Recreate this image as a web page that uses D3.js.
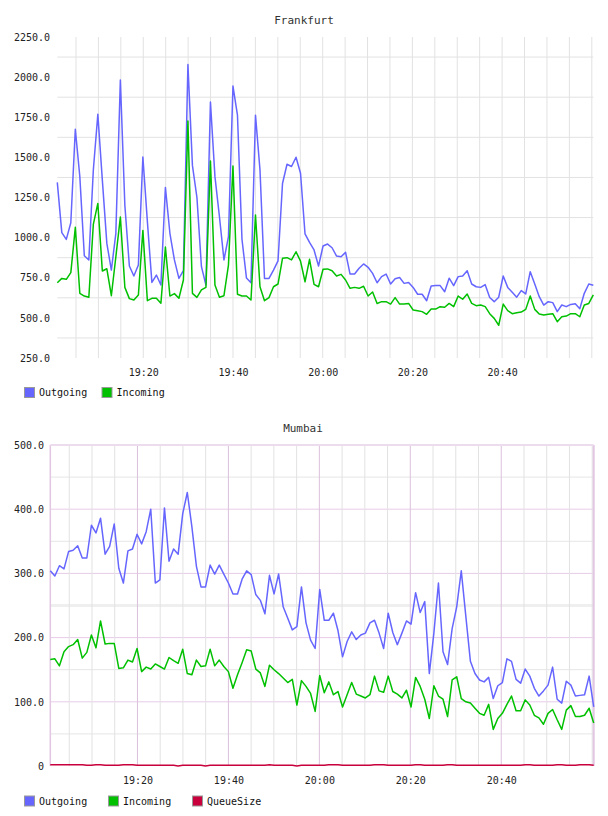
<!DOCTYPE html>
<html><head><meta charset="utf-8">
<script src="https://cdn.jsdelivr.net/npm/d3@7"></script>
<style>html,body{margin:0;padding:0;background:#fff;}svg{display:block;}</style>
</head><body>
<svg id="c" width="608" height="816"></svg>
<script>
// ---------- data ----------
const startTime = "19:00:50";
const endTime = "21:00:20";
const xTickLabels = ["19:20", "19:40", "20:00", "20:20", "20:40"];

const frankfurtYTicks = [250, 500, 750, 1000, 1250, 1500, 1750, 2000, 2250];
const mumbaiYTicks = [0, 100, 200, 300, 400, 500];

const frankfurtOutgoing = [
  1344,1031,989,1093,1675,1380,887,861,1421,1768,
  1358,964,798,1027,1982,1200,823,761,829,1502,
  1100,721,767,705,1313,1027,861,746,794,2078,
  1450,1250,819,705,1845,1380,1130,861,1006,1944,
  1763,990,748,719,1763,1421,746,746,798,855,
  1337,1457,1443,1501,1401,1023,970,923,823,948,
  960,937,885,881,908,773,773,809,836,815,
  777,719,757,773,711,744,752,715,721,690,
  647,647,607,699,701,701,663,747,701,757,
  761,794,711,694,690,707,627,601,629,761,
  690,659,629,670,649,788,711,632,580,601,
  595,539,580,570,584,588,557,653,711,703];
const frankfurtIncoming = [
  719,746,740,782,1064,653,636,628,1083,1213,
  792,806,638,881,1128,690,620,611,642,1045,
  607,622,622,591,941,636,651,622,736,1727,
  653,628,674,690,1477,705,628,638,829,1446,
  647,636,636,611,1141,694,607,626,694,711,
  871,875,861,912,854,725,865,709,694,803,
  805,794,761,771,736,684,690,684,697,636,
  661,590,601,601,586,626,586,586,590,549,
  545,539,522,555,555,570,566,590,570,636,
  616,649,590,576,580,570,526,497,454,586,
  545,526,532,536,553,636,553,524,518,522,
  526,476,507,511,526,526,507,580,590,643];

const mumbaiOutgoing = [
  304,296,312,307,334,336,343,324,324,375,
  363,386,330,342,377,308,285,335,338,361,
  346,365,400,285,290,402,319,338,330,393,
  426,373,311,279,279,313,299,313,299,285,
  268,268,291,304,298,267,258,237,297,268,
  299,248,230,212,217,279,223,196,183,275,
  227,227,238,211,170,194,209,197,204,207,
  223,227,207,183,238,208,189,207,226,221,
  270,239,256,144,207,285,178,158,214,248,
  304,233,163,144,134,131,138,105,125,130,
  167,163,135,129,151,140,121,109,117,126,
  154,104,98,132,126,109,110,111,140,92];
const mumbaiIncoming = [
  166,167,156,178,186,189,197,168,177,204,
  184,226,190,191,191,152,153,165,162,183,
  147,154,151,159,155,151,169,164,160,182,
  144,142,165,155,156,182,156,165,155,147,
  121,142,161,181,179,151,145,124,157,150,
  144,137,130,135,95,133,124,113,85,141,
  114,131,111,116,92,111,130,112,109,106,
  111,140,117,115,140,116,112,106,118,92,
  138,124,104,74,125,109,104,77,134,139,
  105,100,98,90,82,79,96,57,74,82,
  96,109,86,86,103,95,79,75,65,82,
  88,72,57,87,94,77,77,79,90,67];
const mumbaiQueueSize = [
  2,2,2,2,2,2,2,2,1,1,
  2,2,1,1,1,1,2,2,2,1,
  1,1,1,1,1,1,1,1,0,1,
  1,1,1,1,0,1,1,1,1,1,
  1,1,1,1,1,1,1,1,2,1,
  1,1,1,1,0,1,1,1,1,1,
  1,2,2,2,1,1,1,1,1,1,
  1,2,2,2,1,1,1,1,1,1,
  2,2,1,1,1,1,1,2,2,1,
  1,1,1,1,1,1,1,1,1,1,
  1,1,1,1,2,2,1,1,1,1,
  1,2,2,1,1,1,2,2,2,1];

const colors = {Outgoing: "#6666ff", Incoming: "#00c000", QueueSize: "#c8003c"};

// ---------- helpers ----------
const parseT = d3.timeParse("%H:%M:%S");
const parseHM = d3.timeParse("%H:%M");
const t0 = parseT(startTime), t1 = parseT(endTime);
function timesFor(n) {
  const step = (t1 - t0) / (n - 1);
  return d3.range(n).map(i => new Date(+t0 + i * step));
}
const svg = d3.select("#c");
svg.append("rect").attr("width", 608).attr("height", 816).attr("fill", "#fff");
const mono = "'DejaVu Sans Mono', monospace";

function drawChart(cfg) {
  const g = svg.append("g");
  const x = d3.scaleTime().domain([t0, t1]).range([cfg.left, cfg.right]);
  const y = d3.scaleLinear().domain(cfg.yDomain).range([cfg.bottom, cfg.top]);
  const fiveMin = d3.timeMinute.every(5).range(t0, t1);
  const majors = xTickLabels.map(s => parseHM(s));

  // grid
  const grid = g.append("g");
  cfg.hGrid.forEach(h => {
    grid.append("line").attr("x1", cfg.left).attr("x2", cfg.right)
      .attr("y1", y(h.v)).attr("y2", y(h.v))
      .attr("stroke", h.c).attr("stroke-width", h.w || 1);
  });
  fiveMin.forEach(t => {
    const isMajor = majors.some(m => +m === +t);
    grid.append("line").attr("x1", x(t)).attr("x2", x(t))
      .attr("y1", cfg.top).attr("y2", cfg.bottom)
      .attr("stroke", (isMajor && cfg.majorV) ? cfg.majorV : "#e2e2e2")
      .attr("stroke-width", 1);
  });
  if (cfg.border) {
    grid.append("line").attr("x1", cfg.left).attr("x2", cfg.left).attr("y1", cfg.top).attr("y2", cfg.bottom)
      .attr("stroke", cfg.border).attr("stroke-width", 1.5);
    grid.append("line").attr("x1", cfg.right).attr("x2", cfg.right).attr("y1", cfg.top).attr("y2", cfg.bottom)
      .attr("stroke", cfg.border).attr("stroke-width", 2);
    grid.append("line").attr("x1", cfg.left).attr("x2", cfg.right).attr("y1", cfg.top).attr("y2", cfg.top)
      .attr("stroke", "#eddcee").attr("stroke-width", 2);
  }

  // series
  cfg.series.forEach(s => {
    const ts = timesFor(s.values.length);
    const line = d3.line().x((d, i) => x(ts[i])).y(d => y(d));
    g.append("path").datum(s.values).attr("d", line)
      .attr("fill", "none").attr("stroke", colors[s.name])
      .attr("stroke-width", 1.5).attr("stroke-linejoin", "round");
  });

  // y axis labels
  const ya = g.append("g").attr("transform", `translate(${cfg.labelRight},0)`)
    .call(d3.axisLeft(y).tickValues(cfg.yTicks).tickSize(0).tickPadding(0).tickFormat(cfg.yFmt));
  ya.select(".domain").remove();
  ya.selectAll("text").attr("font-family", mono).attr("font-size", 10).attr("fill", "#222");

  // x axis labels
  const xa = g.append("g").attr("transform", `translate(0,${cfg.bottom + 11})`)
    .call(d3.axisBottom(x).tickValues(majors).tickSize(0).tickPadding(0).tickFormat(d3.timeFormat("%H:%M")));
  xa.select(".domain").remove();
  xa.selectAll("text").attr("font-family", mono).attr("font-size", 10).attr("fill", "#222");

  // title
  g.append("text").attr("x", cfg.titleX).attr("y", cfg.titleY).attr("text-anchor", "middle")
    .attr("font-family", mono).attr("font-size", 11).attr("fill", "#333").text(cfg.title);

  // legend
  cfg.series.forEach((s, i) => {
    const lx = cfg.legendX[i];
    g.append("rect").attr("x", lx + 0.5).attr("y", cfg.legendY - 4.5).attr("width", 10).attr("height", 10)
      .attr("fill", colors[s.name]).attr("stroke", "#999").attr("stroke-width", 1);
    g.append("text").attr("x", lx + 15).attr("y", cfg.legendY + 4)
      .attr("font-family", mono).attr("font-size", 10).attr("fill", "#111").text(s.name);
  });
}

drawChart({
  title: "Frankfurt", titleX: 304, titleY: 24,
  left: 57.3, right: 593.3, top: 37, bottom: 358,
  yDomain: [250, 2250], yTicks: frankfurtYTicks, yFmt: d3.format(".1f"), labelRight: 50,
  hGrid: [375, 625, 875, 1125, 1375, 1625, 1875, 2125].map(v => ({v, c: "#e2e2e2"})),
  majorV: null, border: null,
  series: [{name: "Outgoing", values: frankfurtOutgoing}, {name: "Incoming", values: frankfurtIncoming}],
  legendX: [24, 101.5], legendY: 392
});

drawChart({
  title: "Mumbai", titleX: 303, titleY: 432,
  left: 50.3, right: 593.7, top: 445, bottom: 766,
  yDomain: [0, 500], yTicks: mumbaiYTicks, yFmt: v => v === 0 ? "0" : d3.format(".1f")(v), labelRight: 44,
  hGrid: [
    {v: 50, c: "#e6e6e6"}, {v: 150, c: "#e6e6e6"}, {v: 250, c: "#efefef", w: 3},
    {v: 350, c: "#e6e6e6"}, {v: 450, c: "#e6e6e6"},
    {v: 100, c: "#e8cce8"}, {v: 200, c: "#e8cce8"}, {v: 300, c: "#e8cce8"}, {v: 400, c: "#e8cce8"}
  ],
  majorV: "#dcc0dc", border: "#e2c6e2",
  series: [{name: "Outgoing", values: mumbaiOutgoing}, {name: "Incoming", values: mumbaiIncoming},
           {name: "QueueSize", values: mumbaiQueueSize}],
  legendX: [24, 108, 192], legendY: 800.5
});
</script>
</body></html>
